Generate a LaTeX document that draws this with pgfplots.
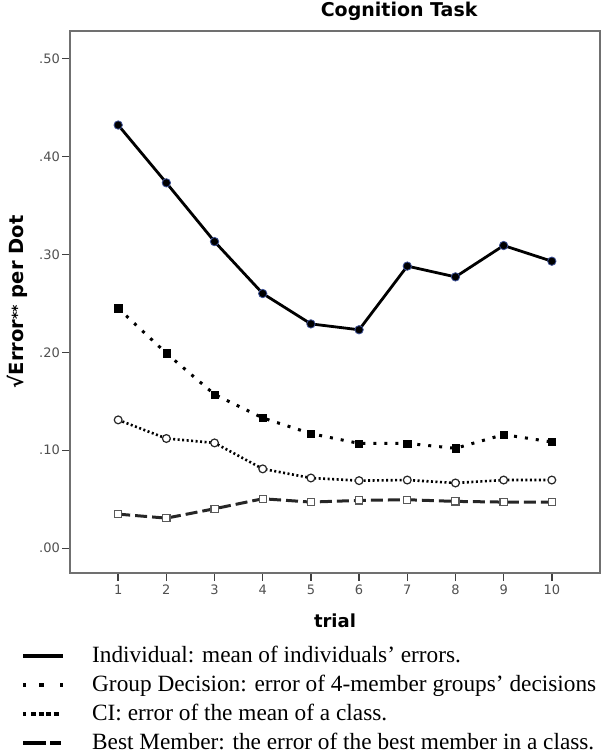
\documentclass[border=0pt]{standalone}
\usepackage{fontspec}
\setmainfont{Liberation Serif}
\setsansfont{DejaVu Sans}
\usepackage{pgfplots}
\pgfplotsset{compat=1.18}
\definecolor{framegray}{RGB}{112,112,112}
\definecolor{ticklab}{RGB}{80,80,80}
\definecolor{markedge}{RGB}{60,80,150}

\begin{document}
\begin{tikzpicture}[x=1pt,y=1pt]
\path[use as bounding box] (0,0) rectangle (604,-753);
\begin{axis}[
  at={(70pt,-572.7pt)}, anchor=south west,
  scale only axis, width=530pt, height=541.7pt,
  xmin=0, xmax=11, ymin=-0.025, ymax=0.528,
  clip=false,
  axis line style={framegray, line width=2pt},
  xtick={1,2,3,4,5,6,7,8,9,10},
  ytick={0,0.1,0.2,0.3,0.4,0.5},
  yticklabels={.00,.10,.20,.30,.40,.50},
  xtick pos=bottom, ytick pos=left,
  tick align=outside, major tick length=8pt,
  tick style={black!75, line width=1.4pt},
  tick label style={font=\fontsize{13}{15}\selectfont\sffamily, text=ticklab},
  yticklabel style={inner sep=2pt},
  xticklabel style={yshift=-1pt},
  /pgf/number format/assume math mode=true,
  xlabel={trial},
  xlabel style={font=\fontsize{18}{22}\selectfont\sffamily\bfseries, at={(axis description cs:0.5,-0.0892)}, anchor=center},
  ylabel={√Error\raisebox{1pt}{\fontsize{14}{14}\selectfont**} per Dot},
  ylabel style={font=\fontsize{19.5}{24}\selectfont\sffamily\bfseries, at={(axis description cs:-0.1,0.5)}, anchor=center},
  title={Cognition Task},
  title style={font=\fontsize{19}{23}\selectfont\sffamily\bfseries, at={(axis description cs:0.621,1.0148)}, anchor=base},
  legend image code/.code={\draw[#1] (0pt,0pt) -- (40pt,0pt);},
  legend cell align=left,
  legend style={at={(axis description cs:-0.0925,-0.1316)}, anchor=north west,
    draw=none, fill=none, inner sep=0pt, row sep=5pt,
    font=\fontsize{23.3}{28}\selectfont,
    nodes={inner sep=0pt, text height=18pt, text depth=6pt},
    /tikz/every odd column/.append style={column sep=27pt}},
]
% Individual
\addplot[black, line width=2.8pt, mark=*, mark size=4.2pt,
  mark options={fill=black, draw=markedge, line width=0.8pt}, forget plot]
  coordinates {(1,0.432) (2,0.373) (3,0.313) (4,0.260) (5,0.229) (6,0.223) (7,0.288) (8,0.277) (9,0.309) (10,0.293)};
% Group Decision
\addplot[black, line width=3pt, dash pattern=on 3pt off 8pt, mark=square*, mark size=3.6pt,
  mark options={solid, fill=black, draw=black, line width=0.5pt}, forget plot]
  coordinates {(1,0.245) (2,0.199) (3,0.157) (4,0.133) (5,0.117) (6,0.107) (7,0.107) (8,0.102) (9,0.116) (10,0.1085)};
% CI
\addplot[black, line width=2.6pt, dash pattern=on 2pt off 2.5pt, mark=*, mark size=3.9pt,
  mark options={solid, fill=white, draw=black!85, line width=1.2pt}, forget plot]
  coordinates {(1,0.131) (2,0.112) (3,0.1075) (4,0.081) (5,0.0717) (6,0.069) (7,0.0696) (8,0.0666) (9,0.0696) (10,0.0696)};
% Best Member
\addplot[black!85, line width=3pt, dash pattern=on 12pt off 5pt, mark=square*, mark size=3.6pt,
  mark options={solid, fill=white, draw=black!65, line width=1.2pt}, forget plot]
  coordinates {(1,0.0348) (2,0.0307) (3,0.0403) (4,0.0505) (5,0.0471) (6,0.0488) (7,0.0495) (8,0.0478) (9,0.0471) (10,0.0471)};

\addlegendimage{black, line width=4pt}
\addlegendentry{Individual: mean of individuals’ errors.}
\addlegendimage{black, line width=4pt, dash pattern=on 3pt off 13pt on 5pt off 16pt on 3pt off 10pt}
\addlegendentry{Group Decision: error of 4-member groups’ decisions}
\addlegendimage{black, line width=4pt, dash pattern=on 3pt off 5pt on 5pt off 2.5pt on 5pt off 2.5pt on 5pt off 2.5pt on 5pt off 10pt}
\addlegendentry{CI: error of the mean of a class.}
\addlegendimage{black, line width=4pt, dash pattern=on 23pt off 4pt on 11pt off 10pt}
\addlegendentry{Best Member: the error of the best member in a class.}
\end{axis}
\end{tikzpicture}
\end{document}
